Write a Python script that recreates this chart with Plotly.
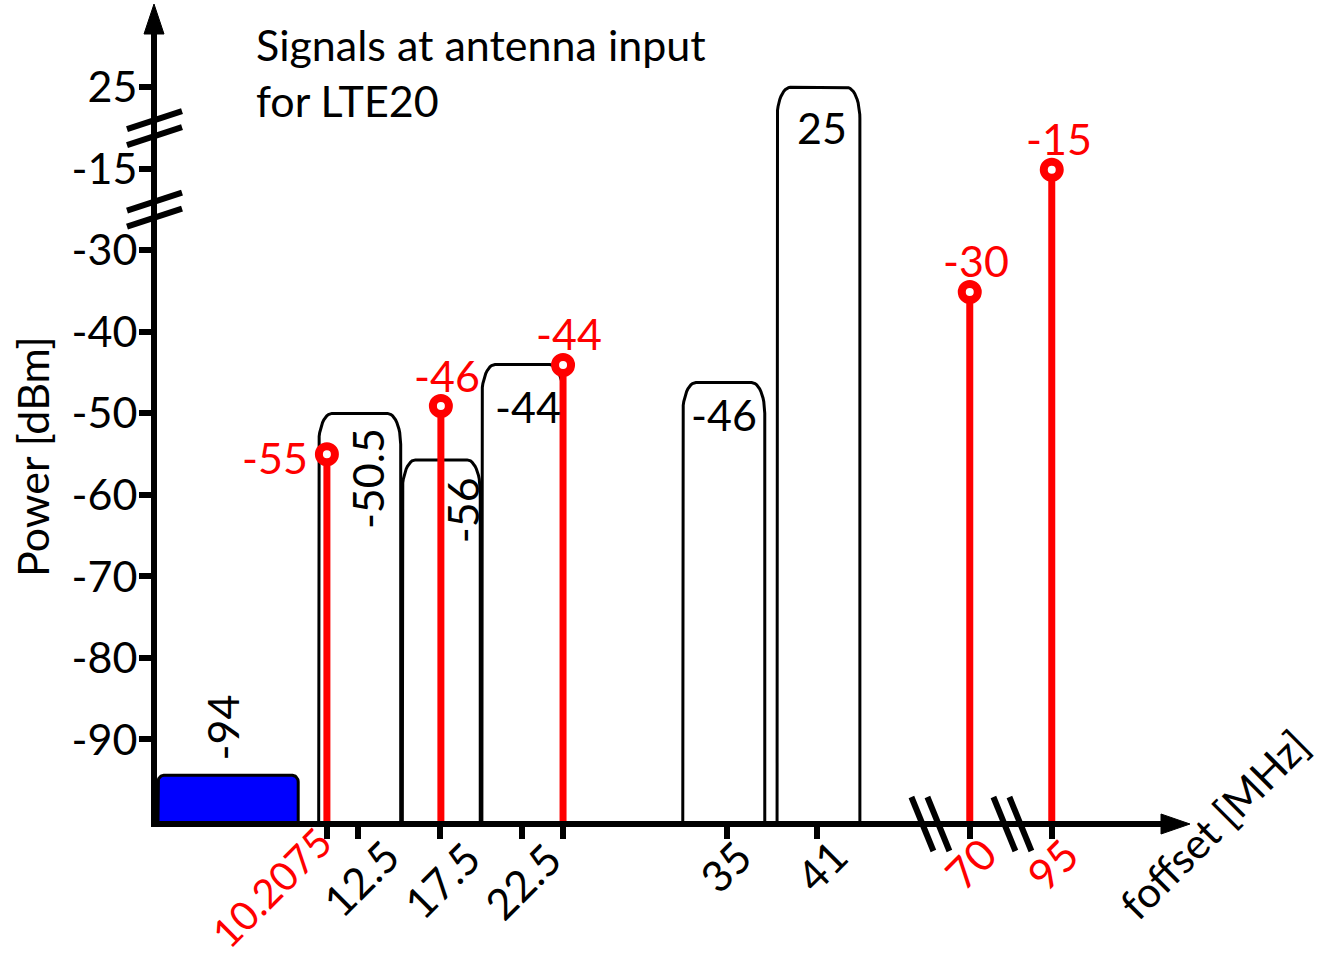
import math
import plotly.graph_objects as go

# ---------------- data (display scale; y uses a broken axis: 25 dBm drawn at -10, -15 dBm at -20) -------------
bar_left = [0.3, 10.1, 15.2, 20.05, 32.3, 38.05]
bar_right = [8.85, 15.1, 19.95, 25.0, 37.3, 43.1]
bar_top = [-94.4, -50.0, -55.7, -44.0, -46.2, -10.0]
bar_label = ["-94", "-50.5", "-56", "-44", "-46", "25"]

cw_x = [10.6, 17.55, 25.0, 49.8, 54.8]
cw_level = [-55.0, -49.1, -44.05, -35.1, -20.1]
cw_label = ["-55", "-46", "-44", "-30", "-15"]

x_tick_pos = [10.6, 12.5, 17.5, 22.5, 25.0, 35.0, 40.5, 49.8, 54.8]
x_tick_text = ["10.2075", "12.5", "17.5", "22.5", "", "35", "41", "70", "95"]
x_tick_red = [True, False, False, False, False, False, False, True, True]

y_tick_pos = [-10, -20, -30, -40, -50, -60, -70, -80, -90]
y_tick_text = ["25", "-15", "-30", "-40", "-50", "-60", "-70", "-80", "-90"]

x_breaks = [47.4, 52.4]
y_breaks = [-15.0, -25.0]

# ---------------- geometry / style -------------
W, H = 1321, 961
ML, MR, MT, MB = 157, 151, 14, 140
XR = [0.24, 62.01]
YR = [-100.0, -1.0]
PW, PH = W - ML - MR, H - MT - MB
FONT = "Lato"
FS = 43
RED = "#ff0000"


def xpix(v):
    return ML + (v - XR[0]) / (XR[1] - XR[0]) * PW


def ypix(v):
    return MT + (YR[1] - v) / (YR[1] - YR[0]) * PH


def paper(px, py):
    return (px - ML) / PW, (H - MB - py) / PH


def rounded_bar(l, r, top, base, rx, ry, n=12):
    xs, ys = [l], [base]
    for i in range(n + 1):
        a = math.pi - i * (math.pi / 2) / n
        xs.append(l + rx + rx * math.cos(a))
        ys.append(top - ry + ry * math.sin(a))
    for i in range(n + 1):
        a = math.pi / 2 - i * (math.pi / 2) / n
        xs.append(r - rx + rx * math.cos(a))
        ys.append(top - ry + ry * math.sin(a))
    xs.append(r)
    ys.append(base)
    return xs, ys


fig = go.Figure()

# bars
for i, (l, r, t) in enumerate(zip(bar_left, bar_right, bar_top)):
    if i == 0:
        xs, ys = rounded_bar(l, r, t, YR[0], 0.35, 0.8)
        fig.add_trace(go.Scatter(x=xs, y=ys, mode="lines", fill="toself", fillcolor="#0000ff",
                                 line=dict(color="black", width=3), hoverinfo="skip", showlegend=False))
    else:
        xs, ys = rounded_bar(l, r, t, YR[0], 0.8, 3.8)
        fig.add_trace(go.Scatter(x=xs, y=ys, mode="lines",
                                 line=dict(color="black", width=3), hoverinfo="skip", showlegend=False))

# CW interferer stems
for x, lv in zip(cw_x, cw_level):
    fig.add_trace(go.Scatter(x=[x, x], y=[YR[0], lv], mode="lines",
                             line=dict(color=RED, width=7), hoverinfo="skip", showlegend=False))
fig.add_trace(go.Scatter(x=cw_x, y=cw_level, mode="markers", cliponaxis=False,
                         marker=dict(symbol="circle", size=16, color="white", line=dict(color=RED, width=8)),
                         hoverinfo="skip", showlegend=False))

annotations = []
# bar labels
bar_lab_style = [  # (xshift, yshift from top, angle)
    (-6, 48, -90), (8, -65, -90), (22, -50, -90), (6, -42, 0), (0, -32, 0), (4, -40, 0)]
for l, r, t, txt, (dxs, dys, ang) in zip(bar_left, bar_right, bar_top, bar_label, bar_lab_style):
    annotations.append(dict(x=(l + r) / 2, y=t, xref="x", yref="y", text=txt, showarrow=False,
                            xshift=dxs, yshift=dys, textangle=ang,
                            font=dict(family=FONT, size=FS, color="black")))
# CW labels
cw_lab_style = [(-52, -3), (6, 31), (6, 31), (6, 31), (7, 31)]
for x, lv, txt, (dxs, dys) in zip(cw_x, cw_level, cw_label, cw_lab_style):
    annotations.append(dict(x=x, y=lv, xref="x", yref="y", text=txt, showarrow=False,
                            xshift=dxs, yshift=dys, font=dict(family=FONT, size=FS, color=RED)))

# x tick labels (rotated -45 deg, centred below each tick)
x_lab_shift = [(-55, 66, 40), (2, 57, FS), (1, 59, FS), (0, 60, FS), (0, 0, FS),
               (-2, 45, FS), (4, 44, FS), (0, 42, FS), (0, 43, FS)]
for pos, txt, red, (dxs, dys, fsz) in zip(x_tick_pos, x_tick_text, x_tick_red, x_lab_shift):
    if not txt:
        continue
    annotations.append(dict(x=pos, y=YR[0], xref="x", yref="y", text=txt, showarrow=False,
                            textangle=-45, xanchor="center", yanchor="middle",
                            xshift=dxs, yshift=-dys, borderpad=0,
                            font=dict(family=FONT, size=fsz, color=RED if red else "black")))

# title
tx, ty = paper(254, 17)
annotations.append(dict(x=tx, y=ty, xref="paper", yref="paper", xanchor="left", yanchor="top",
                        align="left", showarrow=False,
                        text="Signals at antenna input<br>for LTE20",
                        font=dict(family=FONT, size=FS, color="black")))
# axis titles
ax_, ay_ = paper(33, 457)
annotations.append(dict(x=ax_, y=ay_, xref="paper", yref="paper", text="Power [dBm]", textangle=-90,
                        xanchor="center", yanchor="middle",
                        showarrow=False, font=dict(family=FONT, size=FS, color="black")))
bx_, by_ = paper(1214, 824)
annotations.append(dict(x=bx_, y=by_, xref="paper", yref="paper", text="foffset [MHz]", textangle=-45,
                        xanchor="center", yanchor="middle", borderpad=0,
                        showarrow=False, font=dict(family=FONT, size=42, color="black")))

shapes = []


def tri(p1, p2, p3):
    a, b, c = paper(*p1), paper(*p2), paper(*p3)
    return dict(type="path", xref="paper", yref="paper",
                path=f"M{a[0]},{a[1]} L{b[0]},{b[1]} L{c[0]},{c[1]} Z",
                fillcolor="black", line=dict(color="black", width=1))


yx = xpix(XR[0]) - 3
shapes.append(tri((yx, 4), (yx - 10, 34), (yx + 10, 34)))
xy = ypix(YR[0]) + 3
shapes.append(tri((1190, xy), (1161, xy - 10), (1161, xy + 10)))


def seg(p1, p2):
    a, b = paper(*p1), paper(*p2)
    return dict(type="line", xref="paper", yref="paper", x0=a[0], y0=a[1], x1=b[0], y1=b[1],
                line=dict(color="black", width=6))


for yb in y_breaks:
    cy = ypix(yb)
    for off in (-8, 8):
        shapes.append(seg((yx - 27, cy + off + 9), (yx + 28, cy + off - 9)))
for xb in x_breaks:
    cx = xpix(xb)
    for off in (-8, 8):
        shapes.append(seg((cx + off - 11, xy - 27), (cx + off + 11, xy + 27)))

fig.update_layout(
    width=W, height=H, margin=dict(l=ML, r=MR, t=MT, b=MB, autoexpand=False),
    paper_bgcolor="white", plot_bgcolor="white", showlegend=False,
    annotations=annotations, shapes=shapes,
    xaxis=dict(range=XR, showgrid=False, zeroline=False, showline=True, linecolor="black", linewidth=6,
               ticks="outside", ticklen=12, tickwidth=6, tickcolor="black",
               tickmode="array", tickvals=x_tick_pos, ticktext=x_tick_text, showticklabels=False,
               automargin=False, fixedrange=True),
    yaxis=dict(range=YR, showgrid=False, zeroline=False, showline=True, linecolor="black", linewidth=6,
               ticks="outside", ticklen=12, tickwidth=6, tickcolor="black",
               tickmode="array", tickvals=y_tick_pos, ticktext=y_tick_text, ticklabelstandoff=-7,
               tickfont=dict(family=FONT, size=FS, color="black"), automargin=False, fixedrange=True),
)

fig.write_html("out.html", config={"displayModeBar": False},
               post_script="document.body.style.margin='0';document.body.style.overflow='hidden';")
